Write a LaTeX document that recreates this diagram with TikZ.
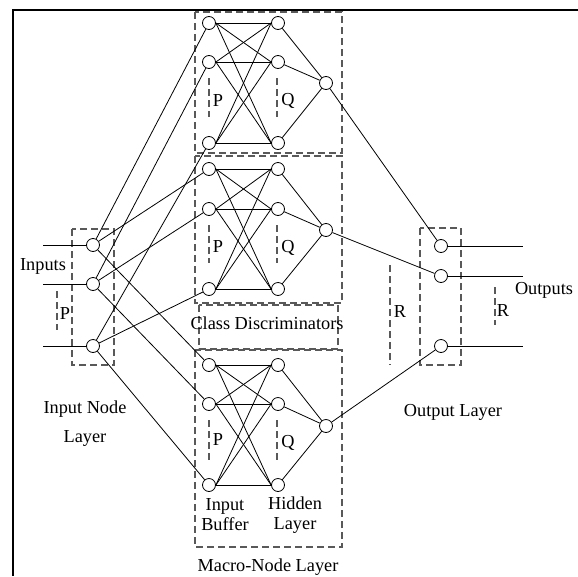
\documentclass[tikz,border=0pt]{standalone}
\usepackage{fontspec}
\setmainfont{Liberation Serif}
\begin{document}
\begin{tikzpicture}[x=1pt,y=-1pt,
  neuron/.style={circle,draw=black,fill=white,line width=0.8pt,minimum size=13pt,inner sep=0pt},
  wire/.style={draw=black,line width=0.8pt},
  dbox/.style={draw=black!65,line width=1.2pt,dash pattern=on 7pt off 4pt},
  lbl/.style={font=\fontsize{18.3}{20}\selectfont,inner sep=0pt,align=center},
  frame/.style={draw=black,line width=2.4pt}]
\useasboundingbox (0,0) rectangle (578,576);
% frame
\coordinate (f0) at (13,10);
\coordinate (f1) at (578,10);
\coordinate (f2) at (13,576);
\draw[frame] (f1) -- (f0) -- (f2);

% dashed boxes
\draw[dbox] (195,12) rectangle (342,153);
\draw[dbox] (195,156) rectangle (342,303);
\draw[dbox] (199,305) rectangle (338,349);
\draw[dbox] (195,350) rectangle (342,547);
\draw[dbox] (72,229) rectangle (114,365);
\draw[dbox] (420,228) rectangle (461,365);

% P/Q/R markers
\draw[dbox] (209,78) -- (209,117);
\draw[dbox] (277,78) -- (277,117);
\draw[dbox] (209,225) -- (209,263);
\draw[dbox] (277,225) -- (277,263);
\draw[dbox] (209,420) -- (209,460);
\draw[dbox] (277,420) -- (277,460);
\draw[dbox] (57,291) -- (57,330);
\draw[dbox] (495,287) -- (495,325);
\draw[dbox] (390,265) -- (390,365);

\node[lbl] (p1) at (218,101) {P};
\node[lbl] (q1) at (288,101) {Q};
\node[lbl] (p2) at (218,247) {P};
\node[lbl] (q2) at (288,248) {Q};
\node[lbl] (p3) at (218,440) {P};
\node[lbl] (q3) at (288,443) {Q};
\node[lbl] (pin) at (65,314) {P};
\node[lbl] (rout) at (503,311) {R};
\node[lbl] (rmid) at (400,312) {R};

% macro-node blocks
\foreach \k/\ya/\yb/\yc/\yo in {1/23/62/143/83, 2/169/209/289/230, 3/365/404/485/426} {
  \node[neuron] (b\k1) at (209,\ya) {};
  \node[neuron] (b\k2) at (209,\yb) {};
  \node[neuron] (b\k3) at (209,\yc) {};
  \node[neuron] (h\k1) at (278,\ya) {};
  \node[neuron] (h\k2) at (278,\yb) {};
  \node[neuron] (h\k3) at (278,\yc) {};
  \node[neuron] (o\k) at (326,\yo) {};
  \foreach \i in {1,2,3} {
    \foreach \j in {1,2,3} {
      \draw[wire] (b\k\i.east) -- (h\k\j.west);
    }
    \draw[wire] (h\k\i) -- (o\k);
  }
}

% input layer
\node[neuron] (in1) at (93,245) {};
\node[neuron] (in2) at (93,284) {};
\node[neuron] (in3) at (93,346) {};
\coordinate (s1) at (43,245);
\coordinate (s2) at (43,284);
\coordinate (s3) at (43,346);
\foreach \i in {1,2,3} {
  \draw[wire] (s\i) -- (in\i);
  \foreach \k in {1,2,3} {
    \draw[wire] (in\i) -- (b\k\i);
  }
}

% output layer
\node[neuron] (out1) at (441,246) {};
\node[neuron] (out2) at (441,276) {};
\node[neuron] (out3) at (441,346) {};
\coordinate (e1) at (523,246);
\coordinate (e2) at (523,276);
\coordinate (e3) at (523,346);
\foreach \i in {1,2,3} {
  \draw[wire] (o\i) -- (out\i);
  \draw[wire] (out\i) -- (e\i);
}

% texts
\node[lbl] (tin) at (43,266) {Inputs};
\node[lbl] (tout) at (544,290) {Outputs};
\node[lbl] (tinl) at (85,424) {Input Node\\[9pt]Layer};
\node[lbl] (tib) at (225,515) {Input\\Buffer};
\node[lbl] (thl) at (295,515) {Hidden\\Layer};
\node[lbl] (tmn) at (268,567) {Macro-Node Layer};
\node[lbl] (tol) at (453,412) {Output Layer};
\node[lbl] (tcd) at (267,323) {Class Discriminators};
\end{tikzpicture}
\end{document}
